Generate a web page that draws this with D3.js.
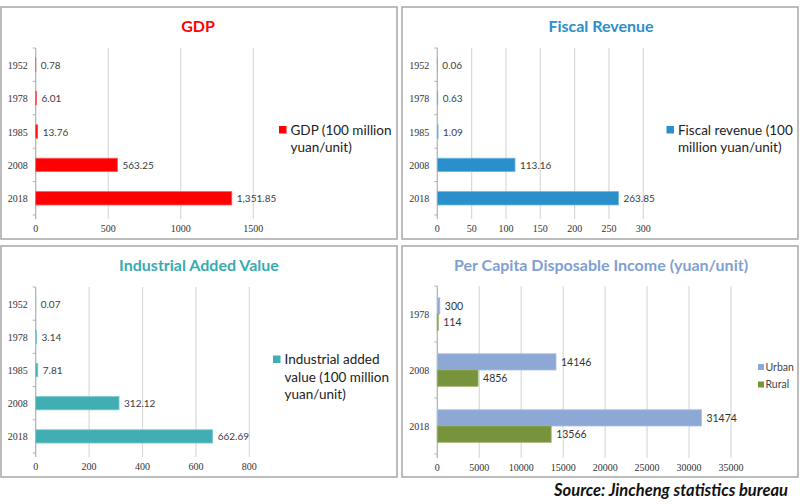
<!DOCTYPE html>
<html><head><meta charset="utf-8">
<script src="https://cdn.jsdelivr.net/npm/d3@7"></script>
<style>
body{margin:0;background:#fff;}
svg{display:block;}
</style></head>
<body>
<svg id="c" width="800" height="504"></svg>
<script>
// ---- data ----
const yearsA = ["1952","1978","1985","2008","2018"];
const gdpValues = [0.78, 6.01, 13.76, 563.25, 1351.85];
const gdpLabels = ["0.78","6.01","13.76","563.25","1,351.85"];
const gdpTicks = [0, 500, 1000, 1500];

const fiscalValues = [0.06, 0.63, 1.09, 113.16, 263.85];
const fiscalLabels = ["0.06","0.63","1.09","113.16","263.85"];
const fiscalTicks = [0, 50, 100, 150, 200, 250, 300];

const industryValues = [0.07, 3.14, 7.81, 312.12, 662.69];
const industryLabels = ["0.07","3.14","7.81","312.12","662.69"];
const industryTicks = [0, 200, 400, 600, 800];

const yearsB = ["1978","2008","2018"];
const incomeSeries = ["Urban","Rural"];
const urbanValues = [300, 14146, 31474];
const ruralValues = [114, 4856, 13566];
const incomeTicks = [0, 5000, 10000, 15000, 20000, 25000, 30000, 35000];

const titles = ["GDP","Fiscal Revenue","Industrial Added Value","Per Capita Disposable Income (yuan/unit)"];
const legendGDP = ["GDP (100 million","yuan/unit)"];
const legendFiscal = ["Fiscal revenue (100","million yuan/unit)"];
const legendIndustry = ["Industrial added","value (100 million","yuan/unit)"];
const sourceText = "Source: Jincheng statistics bureau";

// ---- drawing ----
const svg = d3.select("#c");
const SANS = "Lato, 'Open Sans', sans-serif";
const SERIF = "'Liberation Serif', 'DejaVu Serif', serif";

function frame(x0,y0,x1,y1){
  svg.append("rect").attr("x",x0).attr("y",y0).attr("width",x1-x0).attr("height",y1-y0)
    .attr("fill","#fff").attr("stroke","#a6a6a6").attr("stroke-width",1.5);
}

function axesAndGrid(g, x, yb, ticks, top, bottom, cats){
  g.selectAll(".grid").data(ticks.slice(1)).join("line")
    .attr("x1",d=>x(d)).attr("x2",d=>x(d)).attr("y1",top).attr("y2",bottom+4)
    .attr("stroke","#d9d9d9").attr("stroke-width",1.2);
  g.append("line").attr("x1",x(0)).attr("x2",x(0)).attr("y1",top).attr("y2",bottom+4)
    .attr("stroke","#b0b0b0").attr("stroke-width",1.2);
  const b = d3.range(0, cats.length+1).map(i=>top + i*yb.step());
  g.selectAll(".ytk").data(b).join("line")
    .attr("x1",x(0)-3).attr("x2",x(0)).attr("y1",d=>d).attr("y2",d=>d)
    .attr("stroke","#b0b0b0");
  g.selectAll(".xl").data(ticks).join("text")
    .attr("x",d=>x(d)).attr("y",bottom+17).attr("text-anchor","middle")
    .attr("font-family",SERIF).attr("font-size",10).attr("fill","#333")
    .text(d=>d);
}

function singlePanel(opt){
  frame(opt.box[0],opt.box[1],opt.box[2],opt.box[3]);
  const g = svg.append("g");
  const x = d3.scaleLinear().domain([0, opt.ticks[opt.ticks.length-1]]).range([opt.x0, opt.x1]);
  const y = d3.scaleBand().domain(opt.cats).range([opt.top, opt.bottom]).paddingInner(0.6).paddingOuter(0.3);
  const yb = d3.scaleBand().domain(opt.cats).range([opt.top, opt.bottom]);
  axesAndGrid(g, x, yb, opt.ticks, opt.top, opt.bottom, opt.cats);
  g.selectAll(".bar").data(opt.values).join("rect")
    .attr("x",x(0)).attr("y",(d,i)=>y(opt.cats[i]))
    .attr("width",d=>Math.max(0,x(d)-x(0))).attr("height",y.bandwidth())
    .attr("fill",opt.color).attr("stroke",opt.stroke).attr("stroke-width",0.8);
  g.selectAll(".lbl").data(opt.values).join("text")
    .attr("x",d=>x(d)+5).attr("y",(d,i)=>yb(opt.cats[i])+yb.bandwidth()/2+4)
    .attr("font-family",SANS).attr("font-size",10).attr("fill","#404040")
    .text((d,i)=>opt.labels[i]);
  g.selectAll(".cat").data(opt.cats).join("text")
    .attr("x",opt.x0-8).attr("y",d=>yb(d)+yb.bandwidth()/2+4).attr("text-anchor","end")
    .attr("font-family",SERIF).attr("font-size",10).attr("fill","#333").text(d=>d);
  g.append("text").attr("x",opt.titleX).attr("y",opt.box[1]+25).attr("text-anchor","middle")
    .attr("font-family",SANS).attr("font-weight","bold").attr("font-size",16)
    .attr("fill",opt.titleColor).text(opt.title);
  g.append("rect").attr("x",opt.legX).attr("y",opt.legY-8.5).attr("width",7.5).attr("height",7.5)
    .attr("fill",opt.color);
  g.selectAll(".leg").data(opt.legend).join("text")
    .attr("x",opt.legX+11.5).attr("y",(d,i)=>opt.legY+i*17.5)
    .attr("font-family",SANS).attr("font-size",13.5).attr("fill","#222").text(d=>d);
}

singlePanel({box:[1,7,397,239], x0:35.7, x1:253.3, top:48, bottom:215, cats:yearsA,
  values:gdpValues, labels:gdpLabels, ticks:gdpTicks, color:"#ff0000", stroke:"#ff5a5a",
  title:titles[0], titleColor:"#ff0000", titleX:198, legend:legendGDP, legX:279, legY:134.5});

singlePanel({box:[402,7,798,239], x0:437.3, x1:643.3, top:48, bottom:215, cats:yearsA,
  values:fiscalValues, labels:fiscalLabels, ticks:fiscalTicks, color:"#2a8fcb", stroke:"#6db5e0",
  title:titles[1], titleColor:"#2a8fcb", titleX:601, legend:legendFiscal, legX:666.5, legY:134.5});

singlePanel({box:[1,246,397,477], x0:35.7, x1:249.3, top:287, bottom:453, cats:yearsA,
  values:industryValues, labels:industryLabels, ticks:industryTicks, color:"#40aeb3", stroke:"#7ccace",
  title:titles[2], titleColor:"#3aaab1", titleX:199, legend:legendIndustry, legX:273, legY:364});

(function(){
  frame(402,246,798,477);
  const g = svg.append("g");
  const top=286, bottom=454;
  const x = d3.scaleLinear().domain([0, incomeTicks[incomeTicks.length-1]]).range([437.3, 731]);
  const yb = d3.scaleBand().domain(yearsB).range([top,bottom]);
  const y = d3.scaleBand().domain(yearsB).range([top,bottom]).paddingInner(0.42).paddingOuter(0.21);
  const ys = d3.scaleBand().domain(incomeSeries).range([0,y.bandwidth()]);
  axesAndGrid(g, x, yb, incomeTicks, top, bottom, yearsB);
  const colors = {Urban:"#8ea8d6", Rural:"#77933c"};
  const strokes = {Urban:"#a9bde2", Rural:"#93ab5e"};
  const rows = [];
  yearsB.forEach((yr,i)=>{
    rows.push({yr, s:"Urban", v:urbanValues[i]});
    rows.push({yr, s:"Rural", v:ruralValues[i]});
  });
  g.selectAll(".bar").data(rows).join("rect")
    .attr("x",x(0)).attr("y",d=>y(d.yr)+ys(d.s))
    .attr("width",d=>x(d.v)-x(0)).attr("height",ys.bandwidth())
    .attr("fill",d=>colors[d.s]).attr("stroke",d=>strokes[d.s]).attr("stroke-width",0.8);
  g.selectAll(".lbl").data(rows).join("text")
    .attr("x",d=>x(d.v)+5).attr("y",d=>y(d.yr)+ys(d.s)+ys.bandwidth()/2+4)
    .attr("font-family",SANS).attr("font-size",10.5).attr("fill","#333").text(d=>d.v);
  g.selectAll(".cat").data(yearsB).join("text")
    .attr("x",437.3-8).attr("y",d=>yb(d)+yb.bandwidth()/2+4).attr("text-anchor","end")
    .attr("font-family",SERIF).attr("font-size",10).attr("fill","#333").text(d=>d);
  g.append("text").attr("x",601).attr("y",271).attr("text-anchor","middle")
    .attr("font-family",SANS).attr("font-weight","bold").attr("font-size",16)
    .attr("fill","#7f9fd3").text(titles[3]);
  incomeSeries.forEach((s,i)=>{
    g.append("rect").attr("x",758).attr("y",364+i*17.5).attr("width",6).attr("height",6).attr("fill",colors[s]);
    g.append("text").attr("x",765.5).attr("y",370.5+i*17.5).attr("font-family",SANS).attr("font-size",10.5)
      .attr("fill","#444").text(s);
  });
})();

svg.append("text").attr("x",788).attr("y",496).attr("text-anchor","end")
  .attr("font-family",SANS).attr("font-weight","bold").attr("font-style","italic")
  .attr("font-size",16.5).attr("fill","#111").text(sourceText);
</script>
</body></html>
